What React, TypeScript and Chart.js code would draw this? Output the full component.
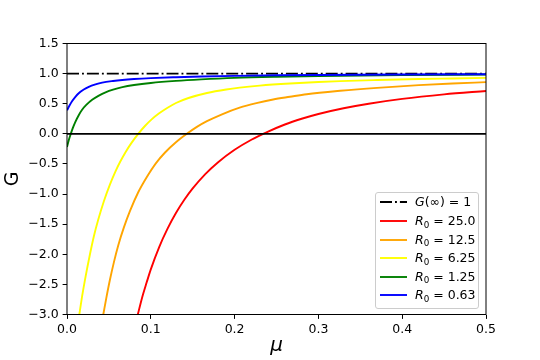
import React, { useEffect, useRef } from "react";
import { Chart, registerables } from "chart.js";

Chart.register(...registerables);

// ---- data ----
const muR25 = [0.0845, 0.09, 0.095, 0.1, 0.11, 0.12, 0.13, 0.14, 0.15, 0.165, 0.18, 0.2, 0.22, 0.24, 0.26, 0.28, 0.3, 0.33, 0.36, 0.4, 0.45, 0.5];
const gR25 = [-3.0, -2.7, -2.47, -2.25, -1.88, -1.575, -1.316, -1.096, -0.907, -0.669, -0.475, -0.265, -0.098, 0.037, 0.155, 0.25, 0.33, 0.425, 0.5, 0.58, 0.655, 0.712];

const muR12 = [0.0433, 0.047, 0.0513, 0.056, 0.0612, 0.068, 0.0752, 0.085, 0.0951, 0.106, 0.117, 0.13, 0.143, 0.155, 0.167, 0.185, 0.206, 0.226, 0.246, 0.266, 0.286, 0.326, 0.37, 0.42, 0.46, 0.5];
const gR12 = [-3.0, -2.72, -2.42, -2.13, -1.85, -1.55, -1.28, -0.97, -0.72, -0.49, -0.31, -0.14, 0.0, 0.115, 0.21, 0.325, 0.435, 0.51, 0.57, 0.615, 0.658, 0.715, 0.764, 0.808, 0.836, 0.858];

const muR6 = [0.0147, 0.018, 0.0215, 0.0274, 0.032, 0.0374, 0.044, 0.0513, 0.058, 0.0636, 0.07, 0.077, 0.085, 0.093, 0.101, 0.11, 0.12, 0.13, 0.145, 0.167, 0.19, 0.206, 0.23, 0.266, 0.3, 0.326, 0.37, 0.42, 0.46, 0.5];
const gR6 = [-3.0, -2.7, -2.42, -2.0, -1.705, -1.42, -1.12, -0.84, -0.62, -0.46, -0.3, -0.15, 0.0, 0.13, 0.24, 0.34, 0.433, 0.512, 0.595, 0.678, 0.737, 0.767, 0.8, 0.835, 0.86, 0.875, 0.893, 0.91, 0.92, 0.93];

const muR1 = [0, 0.002, 0.0045, 0.007, 0.01, 0.014, 0.018, 0.023, 0.03, 0.038, 0.046, 0.055, 0.066, 0.08, 0.1, 0.13, 0.16, 0.2, 0.25, 0.3, 0.4, 0.5];
const gR1 = [-0.22, -0.11, 0.0, 0.1, 0.2, 0.31, 0.4, 0.48, 0.565, 0.635, 0.69, 0.735, 0.775, 0.81, 0.845, 0.88, 0.905, 0.93, 0.948, 0.96, 0.975, 0.984];

const muR06 = [0, 0.003, 0.006, 0.01, 0.014, 0.02, 0.026, 0.034, 0.042, 0.055, 0.066, 0.08, 0.1, 0.13, 0.16, 0.2, 0.25, 0.3, 0.4, 0.5];
const gR06 = [0.39, 0.47, 0.54, 0.615, 0.675, 0.735, 0.78, 0.82, 0.85, 0.878, 0.895, 0.91, 0.925, 0.94, 0.952, 0.963, 0.972, 0.978, 0.986, 0.99];

const refMu = [0, 0.5];
const gInfinity = [1, 1];
const zeroLevel = [0, 0];

const r0Labels = ["25.0", "12.5", "6.25", "1.25", "0.63"];
const curveColors = ["#ff0000", "#ffa500", "#ffff00", "#008000", "#0000ff"];
const curveMu = [muR25, muR12, muR6, muR1, muR06];
const curveG = [gR25, gR12, gR6, gR1, gR06];

const xTicks = [0, 0.1, 0.2, 0.3, 0.4, 0.5];
const yTicks = [-3, -2.5, -2, -1.5, -1, -0.5, 0, 0.5, 1, 1.5];

const FONT = '"DejaVu Sans", sans-serif';
const DASHDOT = [12, 3, 1.9, 3];

const toPts = (xs: number[], ys: number[]) => xs.map((x, i) => ({ x, y: ys[i] }));
const fmt = (v: number) => v.toFixed(1).replace("-", "\u2212");

const framePlugin = {
  id: "frame",
  afterDatasetsDraw(chart: any) {
    const { ctx, chartArea } = chart;
    const { left, top, right, bottom } = chartArea;
    ctx.save();
    ctx.strokeStyle = "#000";
    ctx.lineWidth = 1;
    ctx.strokeRect(left, top, right - left, bottom - top);
    ctx.restore();
  },
};

function Legend() {
  const rows = [
    { color: "#000", dash: true, label: <><i>G</i>(∞) = 1</> },
    ...r0Labels.map((l, i) => ({
      color: curveColors[i],
      dash: false,
      label: (
        <>
          <i>R</i>
          <span style={{ fontSize: "0.7em", position: "relative", top: "0.3em" }}>0</span> = {l}
        </>
      ),
    })),
  ];
  return (
    <div
      style={{
        position: "absolute",
        left: 375,
        top: 192,
        width: 104,
        height: 117,
        boxSizing: "border-box",
        border: "1px solid #cccccc",
        borderRadius: 3,
        background: "rgba(255,255,255,0.8)",
        fontFamily: FONT,
        fontSize: 12.5,
        color: "#000",
      }}
    >
      {rows.map((r, i) => (
        <div key={i} style={{ position: "absolute", left: 0, top: 9.3 + 18.6 * i - 9, height: 18, width: "100%" }}>
          <svg width={27} height={4} style={{ position: "absolute", left: 4, top: 7 }}>
            <line
              x1={0}
              y1={2}
              x2={27}
              y2={2}
              stroke={r.color}
              strokeWidth={1.9}
              strokeDasharray={r.dash ? DASHDOT.join(" ") : undefined}
            />
          </svg>
          <span style={{ position: "absolute", left: 39, top: 0, lineHeight: "18px", whiteSpace: "nowrap" }}>{r.label}</span>
        </div>
      ))}
    </div>
  );
}

export default function App() {
  const ref = useRef<HTMLCanvasElement>(null);

  useEffect(() => {
    if (!ref.current) return;
    const datasets: any[] = [
      {
        label: "zero",
        data: toPts(refMu, zeroLevel),
        borderColor: "#000",
        borderWidth: 1.9,
        pointRadius: 0,
        order: 0,
      },
      {
        label: "G(∞) = 1",
        data: toPts(refMu, gInfinity),
        borderColor: "#000",
        borderWidth: 1.9,
        borderDash: DASHDOT,
        pointRadius: 0,
        order: 10,
      },
      ...curveMu.map((mu, i) => ({
        label: "R0 = " + r0Labels[i],
        data: toPts(mu, curveG[i]),
        borderColor: curveColors[i],
        borderWidth: 1.9,
        pointRadius: 0,
        cubicInterpolationMode: "monotone",
        order: 6 - i,
      })),
    ];
    const chart = new Chart(ref.current, {
      type: "line",
      data: { datasets },
      options: {
        animation: false,
        responsive: false,
        events: [],
        layout: { padding: { left: 0, right: 54, top: 43.5, bottom: 0 } },
        plugins: { legend: { display: false }, tooltip: { enabled: false } },
        scales: {
          x: {
            type: "linear",
            min: 0,
            max: 0.5,
            afterFit: (s: any) => {
              s.height = 45.5;
            },
            afterBuildTicks: (s: any) => {
              s.ticks = xTicks.map((v) => ({ value: v }));
            },
            grid: { drawOnChartArea: false, drawTicks: true, tickLength: 4.4, color: "#000", lineWidth: 1 },
            border: { display: false },
            ticks: {
              color: "#000",
              font: { family: FONT, size: 12.5 },
              padding: 3,
              maxRotation: 0,
              callback: (v: any) => fmt(Number(v)),
            },
            title: {
              display: true,
              text: "μ",
              color: "#000",
              font: { family: FONT, size: 20, style: "italic" },
              padding: { top: 0, bottom: 2 },
            },
          },
          y: {
            type: "linear",
            min: -3,
            max: 1.5,
            afterFit: (s: any) => {
              s.width = 67;
            },
            afterBuildTicks: (s: any) => {
              s.ticks = yTicks.map((v) => ({ value: v }));
            },
            grid: { drawOnChartArea: false, drawTicks: true, tickLength: 4.4, color: "#000", lineWidth: 1 },
            border: { display: false },
            ticks: {
              color: "#000",
              font: { family: FONT, size: 12.5 },
              padding: 4,
              callback: (v: any) => fmt(Number(v)),
            },
            title: {
              display: true,
              text: "G",
              color: "#000",
              font: { family: FONT, size: 19 },
              padding: { top: 2, bottom: 0 },
            },
          },
        },
      } as any,
      plugins: [framePlugin],
    });
    return () => chart.destroy();
  }, []);

  return (
    <div style={{ position: "fixed", left: 0, top: 0, width: 540, height: 360, background: "#fff" }}>
      <canvas ref={ref} width={540} height={360} style={{ display: "block", width: 540, height: 360 }} />
      <Legend />
    </div>
  );
}
